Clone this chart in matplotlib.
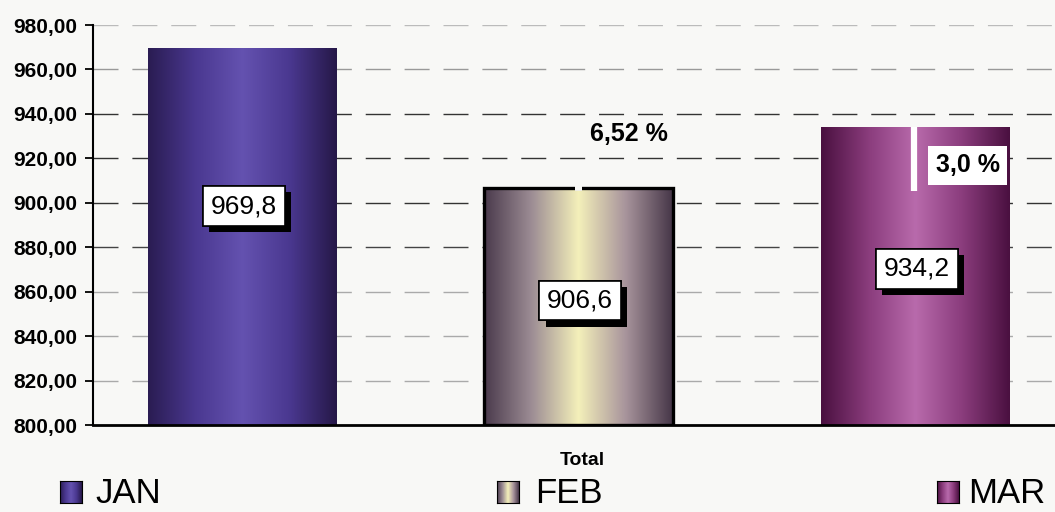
import matplotlib
matplotlib.use("Agg")
import matplotlib.pyplot as plt
import matplotlib.patheffects as pe
import numpy as np
from matplotlib.colors import LinearSegmentedColormap

# data
months = ["JAN", "FEB", "MAR"]
totals = [969.8, 906.6, 934.2]
value_labels = ["969,8", "906,6", "934,2"]
pct_labels = ["6,52 %", "3,0 %"]
yticks = [800, 820, 840, 860, 880, 900, 920, 940, 960, 980]
ytick_labels = ["800,00", "820,00", "840,00", "860,00", "880,00",
                "900,00", "920,00", "940,00", "960,00", "980,00"]

# styles
bar_colors = [
    ["#2a1c52", "#4a3890", "#6452b0", "#4a3890", "#261848"],
    ["#4a3a4c", "#9c8c94", "#f4f0ba", "#a8949c", "#463648"],
    ["#4a1040", "#8a3c7c", "#b86aac", "#8a3c7c", "#4a1040"],
]
label_y = [898.5, 856, 870.2]
grid_colors = ["#aaaaaa", "#aaaaaa", "#aaaaaa", "#444444", "#333333",
               "#333333", "#333333", "#999999", "#bbbbbb"]

plt.rcParams["font.family"] = ["Liberation Sans", "DejaVu Sans"]
bg = "#f8f8f6"
W, H = 1055, 512

fig = plt.figure(figsize=(W / 100, H / 100), dpi=100, facecolor=bg)
ax = fig.add_axes([93 / W, 87 / H, 1 - 93 / W, 400 / H])
ax.set_facecolor(bg)

x = np.arange(len(months))
width = 0.559

# grid lines
for yv, gc in zip(yticks[1:], grid_colors):
    ax.axhline(yv, color=gc, lw=1.0, dashes=(18, 10), zorder=0)

bars = ax.bar(x, np.array(totals) - 800, width, bottom=800,
              facecolor="none", edgecolor="none", zorder=2)

grad = np.linspace(0, 1, 256).reshape(1, -1)
for b, cols in zip(bars, bar_colors):
    cmap = LinearSegmentedColormap.from_list("g", cols)
    x0 = b.get_x()
    x1 = x0 + b.get_width()
    y1 = b.get_y() + b.get_height()
    im = ax.imshow(grad, cmap=cmap, aspect="auto",
                   extent=[x0, x1, 800, y1], zorder=2)
    im.set_clip_path(b)

# FEB outline
bars[1].set_edgecolor("black")
bars[1].set_linewidth(2.4)
bars[1].set_zorder(3)
# little gap at top of FEB bar
ax.plot([x[1] - 0.01, x[1] + 0.01], [totals[1], totals[1]],
        color=bg, lw=4, zorder=4, solid_capstyle="butt")
# white drop line in MAR bar
ax.plot([x[2] - 0.003, x[2] - 0.003], [totals[1] - 1.5, totals[2]],
        color="white", lw=4.5, zorder=4, solid_capstyle="butt")

ax.set_xlim(-0.443, 2.416)
ax.set_ylim(800, 980)

# value boxes with drop shadows
for xi, yv, lab in zip(x, label_y, value_labels):
    t = ax.text(xi + 0.005, yv, lab, ha="center", va="center", fontsize=19,
                color="black", zorder=6,
                bbox=dict(boxstyle="square,pad=0.3", fc="white", ec="black",
                          lw=1.2))
    t.get_bbox_patch().set_path_effects(
        [pe.withSimplePatchShadow(offset=(4.5, -4.5), shadow_rgbFace="black",
                                  alpha=1.0), pe.Normal()])

# percent labels
ax.text(1.150, 930.9, pct_labels[0], ha="center", va="center",
        fontsize=18, fontweight="bold", zorder=6)
ax.text(2.156, 917.0, pct_labels[1], ha="center", va="center",
        fontsize=18, fontweight="bold", zorder=6,
        bbox=dict(boxstyle="square,pad=0.3", fc="white", ec="none"))

# axes styling
ax.set_yticks(yticks)
ax.set_yticklabels(ytick_labels, fontsize=15, fontweight="bold")
ax.set_xticks([])
ax.tick_params(axis="y", direction="out", length=5.5, width=1.3, pad=6)
for s in ["top", "right"]:
    ax.spines[s].set_visible(False)
ax.spines["left"].set_linewidth(1.5)
ax.spines["bottom"].set_linewidth(2)
fig.text(582 / W, (H - 465) / H, "Total", fontsize=14, fontweight="bold",
         ha="center", va="baseline")

# legend
leg_sq_x = [60, 497, 937]
leg_txt_x = [95, 535, 968]
for sx, tx, cols, name in zip(leg_sq_x, leg_txt_x, bar_colors, months):
    sq = fig.add_axes([sx / W, 9 / H, 22 / W, 22 / H])
    sq.imshow(grad, cmap=LinearSegmentedColormap.from_list("g", cols),
              aspect="auto")
    sq.set_xticks([])
    sq.set_yticks([])
    for sp in sq.spines.values():
        sp.set_linewidth(0.8)
    fig.text(tx / W, 2 / H, name, fontsize=25, va="bottom", ha="left")

fig.savefig("out.png", dpi=100, facecolor=bg)
